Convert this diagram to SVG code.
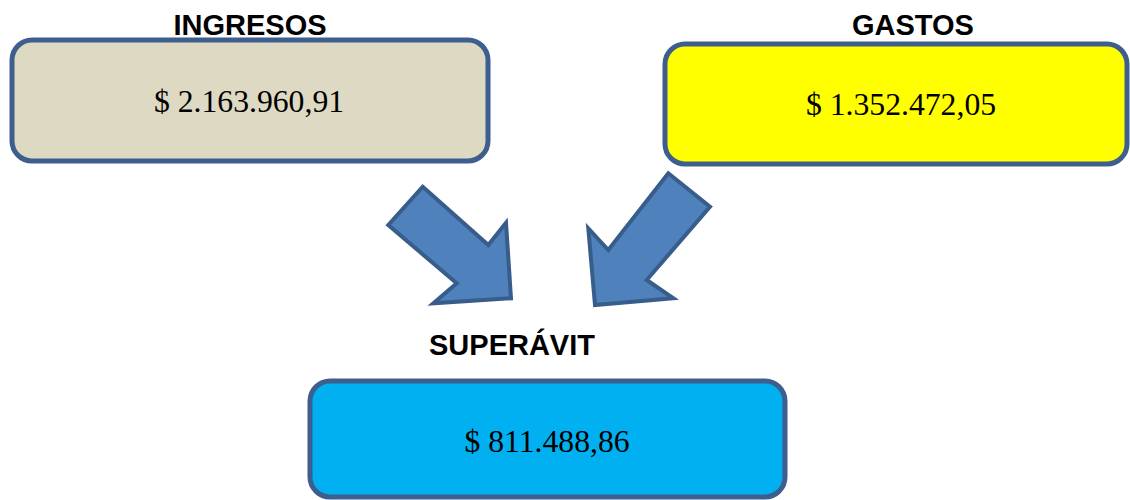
<svg xmlns="http://www.w3.org/2000/svg" width="1130" height="500" viewBox="0 0 1130 500">
<style>
.box{stroke:#3E5F8E;stroke-width:5}
.title{font-family:"Liberation Sans",Arial,sans-serif;font-weight:bold;font-size:29px;fill:#000;text-anchor:middle}
.val{font-family:"Liberation Serif","Times New Roman",serif;font-size:31.7px;fill:#000;text-anchor:middle}
.arrow{fill:#4F81BD;stroke:#385D8A;stroke-width:4;stroke-linejoin:miter}
</style>
<rect width="1130" height="500" fill="#fff"/>
<g id="ingresos">
<text class="title" x="250" y="35">INGRESOS</text>
<rect class="box" x="12" y="40" width="476" height="121" rx="20" fill="#DDD9C3"/>
<text class="val" x="249" y="112">$ 2.163.960,91</text>
</g>
<g id="gastos">
<text class="title" x="913" y="35">GASTOS</text>
<rect class="box" x="665" y="44" width="462" height="120" rx="20" fill="#FFFF00"/>
<text class="val" x="901" y="115">$ 1.352.472,05</text>
</g>
<g id="superavit">
<text class="title" x="512" y="355">SUPERÁVIT</text>
<rect class="box" x="310" y="381" width="475" height="116" rx="20" fill="#00B0F0"/>
<text class="val" x="547" y="452">$ 811.488,86</text>
</g>
<g id="connectors">
<polygon class="arrow" points="422.7,186.7 488.3,245 506,222.7 511,298.3 433.3,303.3 456.7,283.3 388.3,225"/>
<polygon class="arrow" points="668.3,173.3 710,206.7 646.7,280 673.3,298.3 595,305 588.3,228.3 608.3,250"/>
</g>
</svg>
